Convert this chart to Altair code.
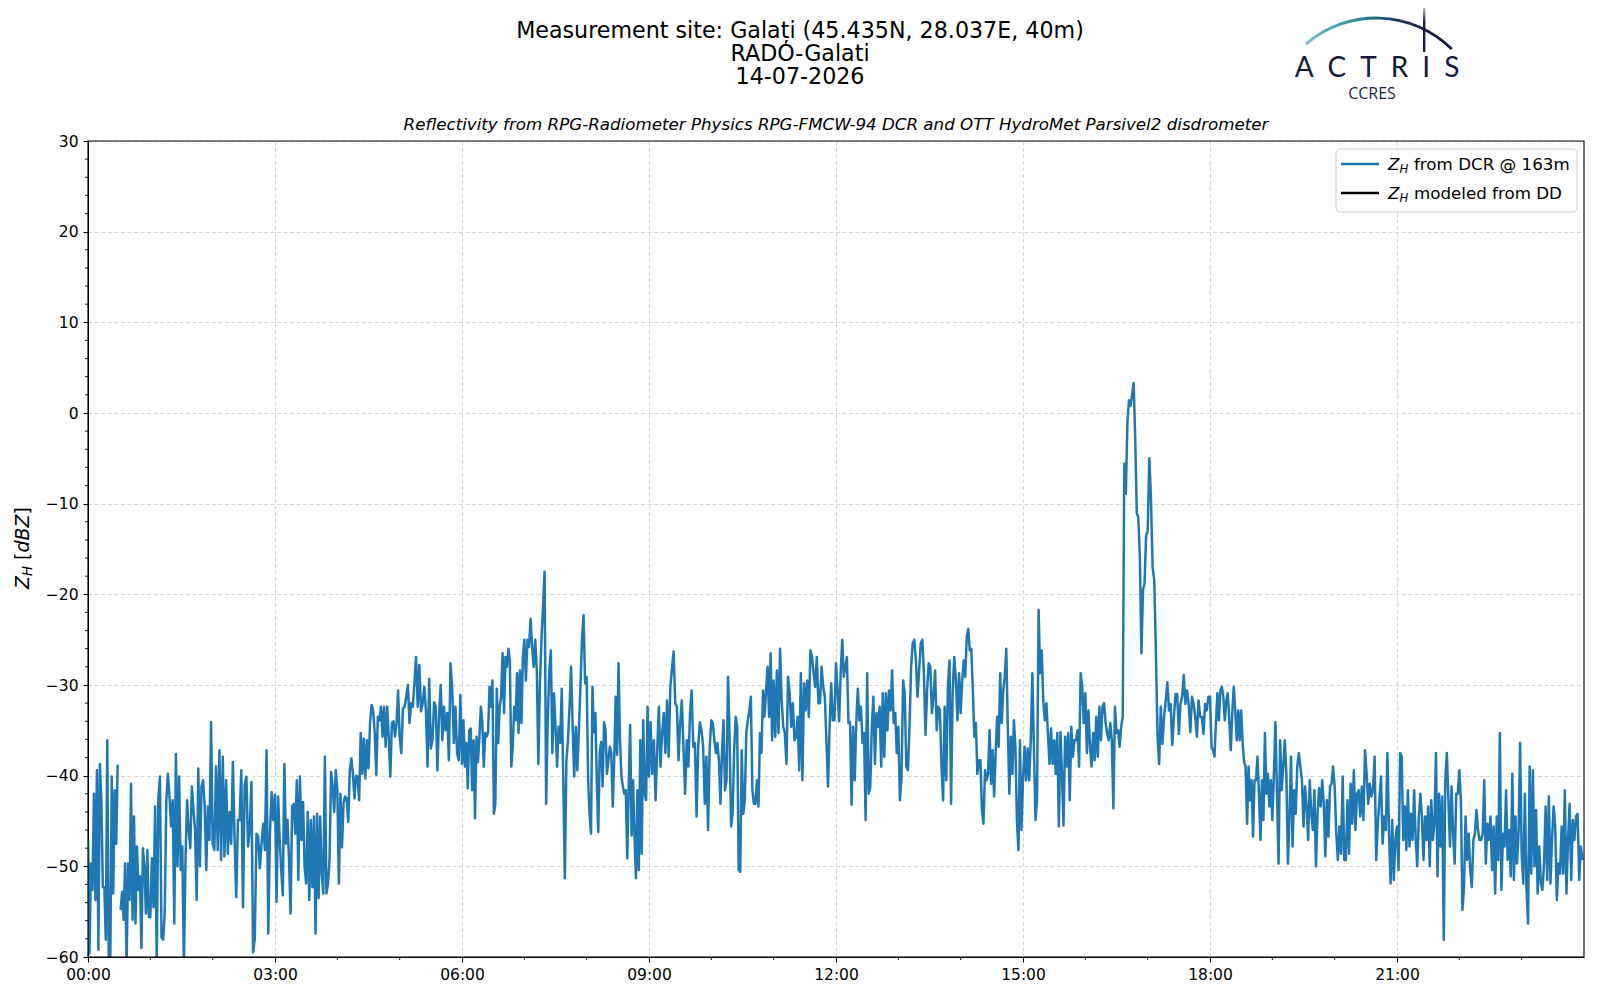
import altair as alt
import pandas as pd

# ---------------- data (hourly blocks of Z_H in dBZ) -------------
z00 = [-47.1, -59.6, -49.7, -52.6, -42, -53.7, -39.4, -59.2, -38.7, -42.7, -52.3, -52.3, -58.1, -36.1,
       -61, -61, -40.1, -53, -41.6, -47.5, -38.8, None,
       -54.8, -52.8, -55.9, -49.7, -61, -49.7, -53.7, -40.9, -55.9, -44.5, -56.3, -47.8, -52.6, -51.1,
       -59, -48, -50, -55.2, -48.2, -55.6]
z01 = [-55.6, -49.1, -54.5, -43.4, -60.5, -42.7, -40.1, -57.8, -58.1, -55.2, -42.7, -39.8, -42.3, -45.6,
       -42.7, -56.3, -37.6, -50, -40.1, -50.4, -47.8, -61, -49.3, -42.7, -46, -48, -41.2, -43.8, -46,
       -53.7, -39.2, -50, -41.2, -40.5, -43.4, -50.4, -43.4, -47.1, -34.1]
z02 = [-47.5, -48.2, -39, -48.2, -37.2, -49.3, -37.9, -48.9, -40.5, -48.6, -44, -47.5, -38.5, -46.9,
       -53.4, -44.9, -44.9, -39.4, -54.5, -41, -40.1, -47.8, -46, -40.7, -59.5, -58, -46.4, -46.7, -50.2,
       -47.5, -45.3, -48.2, -37.2, -57.4, -46.4, -41.8, -44.9]
z03 = [-42.1, -53.9, -42.3, -47.1, -50.4, -53.2, -38.7, -47.5, -44.9, -49.3, -55.2, -43.4, -43.1, -46.4,
       -40.5, -51.5, -40.1, -47.1, -42.9, -50, -51.9, -44, -53.7, -44.9, -52.3, -44.5, -57.4, -44.2,
       -53.5, -44.5, -50.8, -53, -37.9, -53, -51.9, -49.3, -39.6, -41.2, -44, -39.4]
z04 = [-41.6, -51.9, -42, -47.9, -43, -42.3, -42.5, -45.1, -39.4, -38.1, -39.8, -42.5, -40, -40.1, -42.7,
       -35.3, -39.8, -35.9, -40.3, -36.1, -39.2, -34.2, -32.2, -32.8, -35.3, -39.9, -33.5, -33.9, -32.4,
       -35.7, -32.4, -36.8, -32.4, -35.7, -40.1, -34.2, -34, -35.7, -34.2, -30.6]
z05 = [-35.7, -37.5, -32.6, -32.4, -31.3, -30, -34.2, -32, -32.4, -29.8, -26.9, -32.4, -27.8, -32.9, -32,
       -30.2, -32.8, -39, -29.3, -37, -36.1, -31.9, -32.4, -39.4, -33.5, -30, -36.1, -32.4, -35, -33.1,
       -38.3, -27.6, -30.2, -36.4, -32.4, -37.5, -38.3, -31.1]
z06 = [-38.7, -33.9, -39, -36.4, -41.4, -35, -34.8, -41.6, -36.1, -44.7, -35.7, -38.5, -35.7, -32.4,
       -33.9, -39, -35.3, -35.7, -35.2, -30.2, -32.4, -29.5, -44.2, -43.1, -30.4, -36.4, -32.4, -31.3,
       -26.5, -33.1, -26.9, -28, -26, -27.3, -39, -36.8, -32.4, -33.9, -28.7, -35.3, -28.4, -34.2, -26.9]
z07 = [-25, -29.5, -25, -25.8, -22.7, -25.8, -28, -25, -28.4, -38.7, -29.8, -25, -21.4, -17.5, -43.1,
       -33.9, -28.4, -26.2, -37.5, -30.9, -34.6, -39, -34.6, -36.4, -30.4, -40.5, -51.3, -38.3, -36.1,
       -32.4, -28, -34.6, -40.1, -34.6, -39.4, -35, -30.2, -25, -22.3, -29.8]
z08 = [-29.1, -40.5, -44.2, -46.4, -30.2, -35.2, -33.1, -40.5, -46.2, -37.5, -36.3, -41.2, -34.1, -35,
       -39.8, -38.3, -36.8, -37.5, -43.4, -38.3, -31.3, -37.7, -27.6, -36.1, -40.1, -41.2, -42, -41.6,
       -49.1, -41.2, -34.4, -46.6, -40.5, -46.7, -51.3, -41.6, -50.4, -36.1, -48.6, -33.9, -42, -42.7, -32.4]
z09 = [-40.1, -34.1, -39.8, -36.1, -42.7, -37.2, -32.4, -39, -35.3, -33.1, -37.5, -31.7, -37.9, -30.2,
       -28.2, -26.3, -32, -32.4, -38.3, -34.2, -31.7, -36.8, -42, -36.1, -39, -33.1, -30.6, -36.8, -36.4,
       -44.5, -36.8, -34.1, -35, -36.8, -43.1, -37.9, -46, -36.8]
z10 = [-33.9, -34.2, -36.1, -37.5, -36.4, -38.3, -43.1, -37.5, -33.9, -41.6, -40.5, -29.1, -35.7, -45.6,
       -44.2, -37.2, -33.5, -34.6, -50.4, -50.6, -37.2, -44.2, -42.7, -35.3, -33.9, -32.8, -31.3, -41.6,
       -43.1, -43.1, -40.5, -43.4, -35.3, -37.5, -30.6, -33.5, -30.6, -28, -33.5, -26.5, -36.1]
z11 = [-29.5, -35.7, -28.4, -35.3, -26, -31.7, -34.6, -35.3, -38.7, -29.1, -30.9, -34.6, -32, -36.1,
       -35.7, -33.5, -39.4, -28.7, -40.5, -29.8, -32.8, -29.5, -33.5, -26.2, -26.9, -28.7, -30.2, -26.9,
       -32, -32, -28, -30.2, -31.3, -36.1, -41.2, -34.6, -29.8, -33.9, -33.9]
z12 = [-27.6, -30.6, -34, -28.7, -25, -29.1, -28, -26.9, -34.2, -34.1, -43.2, -34.6, -40.5, -34.2, -30.4,
       -33.9, -32.4, -36.4, -35.3, -44.9, -28.7, -42, -41.2, -34.6, -31.3, -38.7, -33.1, -34.6, -32.4, -39,
       -30.9, -37.9, -30.9, -35, -30.6, -32.8, -28.4, -34.2, -33.1, -37.5]
z13 = [-34.6, -42.7, -40.1, -29.5, -30.9, -39, -39.4, -34.6, -28, -25.4, -25, -27.3, -31.3, -28.4, -25.4,
       -25, -28.7, -35.5, -30.6, -27.6, -28, -33.1, -31.3, -28.4, -35, -32.4, -32.8, -38.7, -42.7, -32.4,
       -40.5, -30.2, -27.3, -43.1, -30.6, -26.9, -29.5, -33.9, -28.7]
z14 = [-33.1, -29.5, -27.3, -29.1, -24.7, -23.8, -26.2, -26, -30.6, -35.7, -34.2, -39.8, -38.3, -38.3,
       -43.8, -45.3, -39.4, -40.5, -39.8, -35, -40.9, -37.2, -42.3, -37.5, -33.5, -36.8, -28.7, -34.2,
       -30.6, -29.1, -26, -34.6, -42, -35.7, -39.8, -33.9, -36.8, -44.9, -48.2, -36.1, -46]
z15 = [-40.5, -36.8, -40.5, -37, -40.5, -36.1, -28.7, -36.8, -44.9, -42.7, -21.7, -28.7, -26.2, -31.7,
       -33.9, -32, -35.3, -38.7, -34.8, -38.7, -36.1, -39.8, -35.3, -45.6, -35.2, -39.8, -45.5, -35.7, -39,
       -35.3, -42.7, -34.6, -37.9, -36.1, -36.1, -35, -39, -28.7, -30.2, -34.2]
z16 = [-30.9, -37.5, -32.8, -36.8, -39, -35.3, -38.3, -33.5, -37.9, -32.4, -36.1, -32.4, -32, -34.2,
       -35.3, -36.1, -34.2, -36.1, -43.6, -32.4, -35.3, -35, -36.8, -34.6, -33.5, -5.6, -8.9, -1, 1.4, 0.8,
       2, 3.3, -2.6, -11, -11.5, -16, -26.5, -19.5, -18.8, -13.5]
z17 = [-13.1, -5, -9.3, -17, -18.4, -26.2, -35.4, -38.7, -32.4, -36.5, -33.5, -31.7, -29.7, -32.8, -32.1,
       -36.6, -33.5, -31, -31, -35.4, -32.1, -31.3, -28.9, -32.1, -30.6, -32.1, -35.2, -31.3, -32.1, -33.5,
       -35.7, -31.7, -33.5, -33.5, -35.4, -32.1, -32.8, -31.3]
z18 = [-31.3, -36.8, -37.2, -37.9, -34.2, -30.9, -33.9, -30.6, -30.2, -31.3, -33.9, -31.7, -30.9, -33.9,
       -37.2, -33.1, -30.2, -32.8, -36.1, -32.8, -36.1, -32.8, -36.4, -38.5, -39, -45.3, -39, -42.7, -40.5,
       -46.7, -40.5, -40.5, -37.9, -42, -47.1, -40.5, -44.9, -35.3, -42, -39.8, -43.4, -40.5]
z19 = [-44.9, -39.8, -34.1, -42, -49.7, -36.1, -41.6, -39, -36.1, -39.8, -49.7, -44.5, -37.9, -47.8, -41.6,
       -44.2, -39, -37.5, -39, -40.5, -45.6, -41.2, -43.4, -47.1, -40.5, -44.2, -46, -41.6, -50, -44.2,
       -41.4, -43.4, -40.5, -43.1, -48.9, -42.7, -46.7, -41.2, -40.9, -39]
z20 = [-41.2, -46.4, -49.3, -45.6, -48.6, -40.1, -49.3, -49.3, -42.7, -48.6, -40.9, -45.3, -39.4, -46,
       -42, -41.6, -44.5, -41.2, -44.9, -37.2, -39.8, -43.1, -40.9, -42.3, -41.6, -37.9, -49.3, -45.3,
       -42.7, -40.1, -47.5, -44.5, -46, -37.5, -46.4, -51.9, -44.9, -51.5, -47.1]
z21 = [-45.6, -50.4, -37.5, -37.9, -47.1, -43.4, -48.2, -41.6, -47.8, -44.2, -47.1, -41.6, -47.1, -50,
       -44.5, -42, -44.5, -49.3, -44.5, -47.1, -43.4, -50, -42.7, -47.1, -45.3, -37.5, -51.1, -42, -47.8,
       -42.3, -58.1, -40.5, -37.5, -42.7, -47.8, -41.2, -46.4, -49.7, -42, -42]
z22 = [-39.4, -42.7, -54.8, -52.3, -44.5, -49.3, -46.4, -50.4, -52.3, -47.1, -46.4, -43.8, -46, -47.1,
       -47.1, -46.4, -40.5, -49.7, -45.3, -47.1, -44.5, -50.4, -45.6, -53, -44.5, -49.3, -35.3, -52.6,
       -46.4, -47.8, -41.6, -49.3, -46, -51.1, -39.8, -51.5, -44.5, -49.7, -46.4, -36.4]
z23 = [-48.6, -51.9, -42, -52.3, -56.3, -39, -50.8, -39.4, -50, -43.8, -53, -47.8, -51.9, -52.6, -49.7,
       -43.4, -51.5, -42.3, -51.9, -47.1, -43.4, -45.6, -53.7, -49.7, -50.8, -45.6, -50.8, -41.6, -53,
       -47.1, -43.1, -51.5, -44.9, -47.1, -44.5, -44.2, -51.5, -47.8, -49.3]

hour_blocks = [z00, z01, z02, z03, z04, z05, z06, z07, z08, z09, z10, z11,
               z12, z13, z14, z15, z16, z17, z18, z19, z20, z21, z22, z23]

x_major = [0, 3, 6, 9, 12, 15, 18, 21]
x_minor = [1, 2, 4, 5, 7, 8, 10, 11, 13, 14, 16, 17, 19, 20, 22, 23]
y_major = [-60, -50, -40, -30, -20, -10, 0, 10, 20, 30]
y_minor = [v for v in range(-58, 30, 2) if v % 10 != 0]

title_lines = ["Measurement site: Galați (45.435N, 28.037E, 40m)", "RADO-Galati", "14-07-2026"]
subtitle = ("Reflectivity from RPG-Radiometer Physics RPG-FMCW-94 DCR and "
            "OTT HydroMet Parsivel2 disdrometer")
legend_rest = ["from DCR @ 163m", "modeled from DD"]
legend_colors = ["#1f77b4", "#000000"]

# ---------------- build table ----------------
rows = []
seg = 0
for h, vals in enumerate(hour_blocks):
    n = len(vals)
    for k, v in enumerate(vals):
        if v is None:
            seg += 1
            continue
        rows.append({"t": h + k / n, "z": v, "seg": seg})
df = pd.DataFrame(rows)

W, H = 1496, 816
FONT = "DejaVu Sans"
xs = alt.Scale(domain=[0, 24], nice=False, zero=False)
ys = alt.Scale(domain=[-60, 30], nice=False, zero=False)
x_axis = alt.Axis(values=x_major, title=None, grid=True, labelFlush=False, labelPadding=5,
                  labelExpr="(datum.value < 10 ? '0' : '') + datum.value + ':00'")
y_axis = alt.Axis(values=y_major, title=None, grid=True, labelFlush=False, labelPadding=5)

line = alt.Chart(df).mark_line(color="#1f77b4", strokeWidth=2.5, clip=True,
                               strokeJoin="round").encode(
    x=alt.X("t:Q", scale=xs, axis=x_axis),
    y=alt.Y("z:Q", scale=ys, axis=y_axis),
    detail="seg:N",
)

xminor = alt.Chart(pd.DataFrame({"t": x_minor})).mark_rule(color="black", strokeWidth=0.9).encode(
    x=alt.X("t:Q", scale=xs, axis=x_axis), y=alt.value(H), y2=alt.value(H + 3))
yminor = alt.Chart(pd.DataFrame({"z": y_minor})).mark_rule(color="black", strokeWidth=0.9).encode(
    y=alt.Y("z:Q", scale=ys, axis=y_axis), x=alt.value(0), x2=alt.value(-3))


def one():
    return pd.DataFrame({"s": [0]})


def txt(text, x, y, size, style="normal", font=FONT, align="left", angle=0,
        color="black", weight="normal", baseline="alphabetic"):
    return alt.Chart(pd.DataFrame({"s": [text]})).mark_text(
        align=align, baseline=baseline, fontSize=size, fontStyle=style, font=font,
        angle=angle, color=color, fontWeight=weight).encode(
        x=alt.value(x), y=alt.value(y), text="s:N")


# axes frame drawn on top of the grid
frame = alt.Chart(one()).mark_rect(fillOpacity=0, fill="white", stroke="black",
                                   strokeWidth=1.1).encode(
    x=alt.value(0), x2=alt.value(W), y=alt.value(0), y2=alt.value(H))

layers = [line, xminor, yminor, frame]

# titles
for t, yy in zip(title_lines, [-103.5, -80.3, -57]):
    layers.append(txt(t, 712, yy, 22.2, align="center"))
layers.append(txt(subtitle, 748, -11, 16.7, style="italic", align="center"))

# y-axis title  Z_H [dBZ]  (rotated)
yb = -58.6
layers += [
    txt("Z", yb, 448, 19, style="italic", angle=270),
    txt("H", yb + 3, 435, 13.3, style="italic", angle=270),
    txt("[", yb, 419, 19, angle=270),
    txt("dBZ", yb, 411.6, 19, style="italic", angle=270),
    txt("]", yb, 373.5, 19, angle=270),
]

# legend
box = alt.Chart(one()).mark_rect(fill="white", fillOpacity=0.8, stroke="#cccccc",
                                 strokeWidth=1, cornerRadius=4).encode(
    x=alt.value(1248), x2=alt.value(1489), y=alt.value(8), y2=alt.value(71))
layers.append(box)
for i, (rest, col) in enumerate(zip(legend_rest, legend_colors)):
    ly = 23 + 29 * i
    layers.append(alt.Chart(one()).mark_rule(color=col, strokeWidth=2.5).encode(
        x=alt.value(1253), x2=alt.value(1291), y=alt.value(ly)))
    bl = ly + 6
    layers.append(txt("Z", 1300, bl, 16.7, style="italic"))
    layers.append(txt("H", 1311.4, bl + 2.5, 11.7, style="italic"))
    layers.append(txt(rest, 1326, bl, 16.7))

# ACTRIS logo
arc_grad = alt.LinearGradient(gradient="linear", x1=0, y1=0, x2=1, y2=0, stops=[
    alt.GradientStop(offset=0, color="#6fc6c4"),
    alt.GradientStop(offset=0.35, color="#2b8c96"),
    alt.GradientStop(offset=0.6, color="#1c3f60"),
    alt.GradientStop(offset=0.8, color="#161a40"),
    alt.GradientStop(offset=1, color="#161a40")])
arc = alt.Chart(one()).mark_arc(theta=5.571, theta2=7.063, radius=109, radius2=106.2,
                                fill=arc_grad).encode(x=alt.value(1288.1), y=alt.value(-15.4))
layers.append(arc)
vgrad = alt.LinearGradient(gradient="linear", x1=0, y1=0, x2=0, y2=1, stops=[
    alt.GradientStop(offset=0, color="#ffffff"),
    alt.GradientStop(offset=0.4, color="#1a1f45"),
    alt.GradientStop(offset=1, color="#1a1f45")])
layers.append(alt.Chart(one()).mark_rect(fill=vgrad).encode(
    x=alt.value(1335), x2=alt.value(1337.4), y=alt.value(-139), y2=alt.value(-89)))
layers.append(txt("A\u2002C\u2002T\u2002R\u2002I\u2002S", 1289, -64.5, 28, font="Lato",
                  align="center", color="#14183a"))
layers.append(txt("CCRES", 1284, -41.7, 16, font="Open Sans", align="center", color="#1a1f45"))

chart = alt.layer(*layers).properties(
    width=W, height=H,
    padding={"left": 80, "top": 133, "right": 6, "bottom": 26},
    autosize=alt.AutoSizeParams(type="none"),
    background="white",
).configure_view(stroke="transparent").configure_axis(
    labelFont=FONT, labelFontSize=15.5, labelColor="black",
    tickColor="black", tickWidth=1.1, tickSize=5,
    domainColor="black", domainWidth=1.1,
    gridColor="#d6d6d6", gridWidth=1, gridDash=[4, 2.5],
)

chart.save("out.html", embed_options={"renderer": "svg", "actions": False})
